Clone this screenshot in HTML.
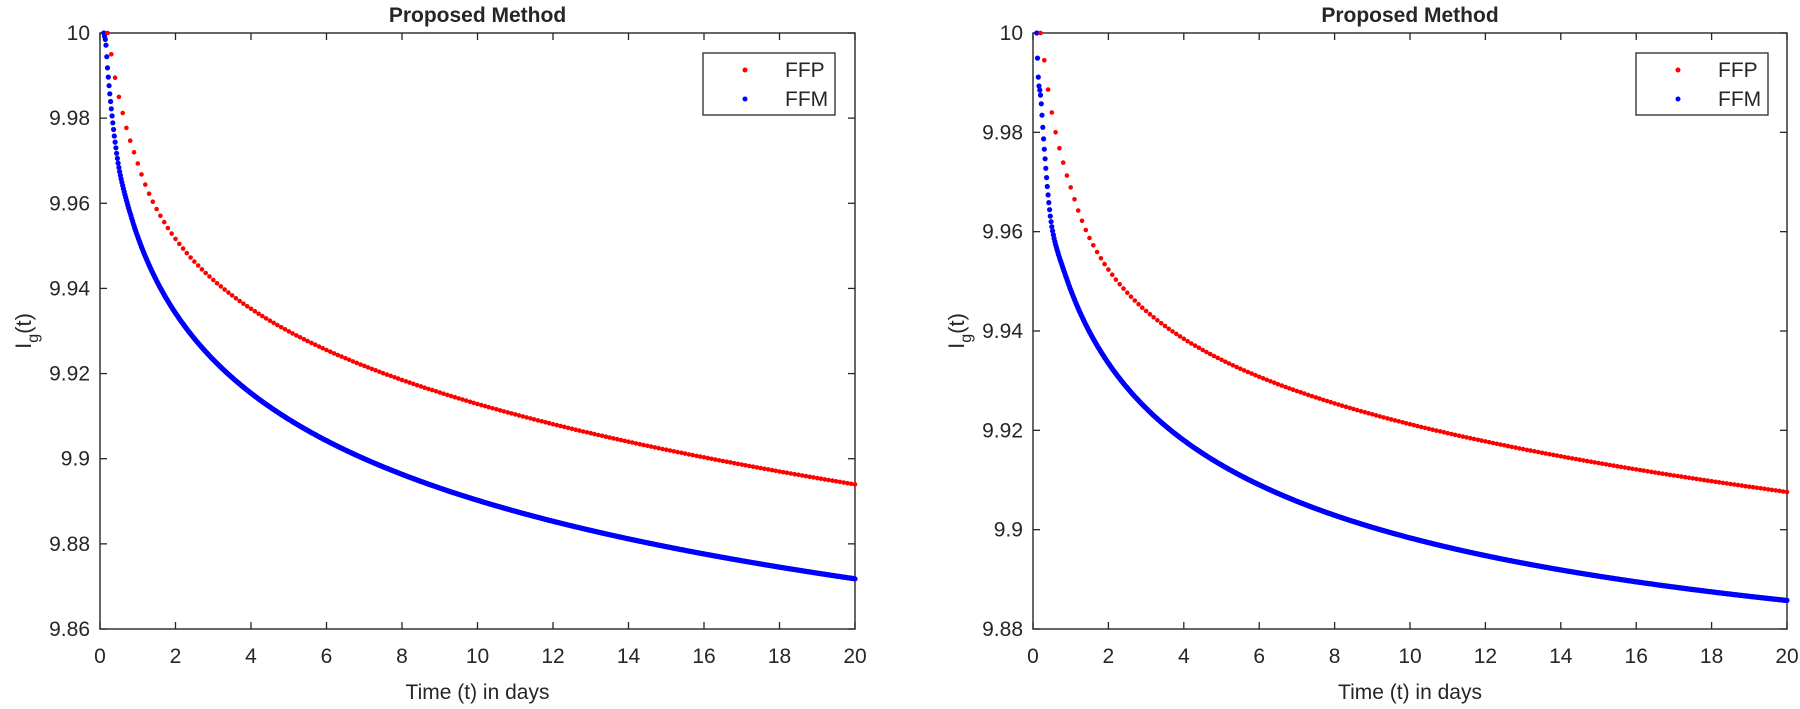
<!DOCTYPE html>
<html><head><meta charset="utf-8"><style>
html,body{margin:0;padding:0;background:#fff;}
svg{display:block;}
text{font-family:"Liberation Sans",Arial,sans-serif;fill:#262626;}
</style></head><body>
<svg id="s" width="1800" height="709" xmlns="http://www.w3.org/2000/svg"></svg>
<script>
const S=document.getElementById('s');
let out='';
function makeSpline(pts){
  const xs=pts.map(p=>Math.log(p[0])), ys=pts.map(p=>p[1]), n=xs.length;
  const d=[],m=new Array(n);
  for(let i=0;i<n-1;i++)d.push((ys[i+1]-ys[i])/(xs[i+1]-xs[i]));
  m[0]=d[0];m[n-1]=d[n-2];
  for(let i=1;i<n-1;i++){ if(d[i-1]*d[i]<=0)m[i]=0; else { const w1=2*(xs[i+1]-xs[i])+(xs[i]-xs[i-1]), w2=(xs[i+1]-xs[i])+2*(xs[i]-xs[i-1]); m[i]=(w1+w2)/(w1/d[i-1]+w2/d[i]); } }
  return function(t){
    const x=Math.log(t);
    if(x<=xs[0])return ys[0];
    if(x>=xs[n-1])return ys[n-1];
    let i=0;while(x>xs[i+1])i++;
    const h=xs[i+1]-xs[i], s=(x-xs[i])/h;
    const h00=2*s*s*s-3*s*s+1,h10=s*s*s-2*s*s+s,h01=-2*s*s*s+3*s*s,h11=s*s*s-s*s;
    return h00*ys[i]+h10*h*m[i]+h01*ys[i+1]+h11*h*m[i+1];
  };
}
function polyfit(pts,deg){
  const N=deg+1,A=[],b=[];
  for(let i=0;i<N;i++){A.push(new Array(N).fill(0));b.push(0);}
  pts.forEach(([t,y])=>{const u=Math.log(t);const p=[];for(let k=0;k<N;k++)p.push(Math.pow(u,k));
    for(let i=0;i<N;i++){b[i]+=p[i]*y;for(let j=0;j<N;j++)A[i][j]+=p[i]*p[j];}});
  for(let i=0;i<N;i++){let mx=i;for(let r=i+1;r<N;r++)if(Math.abs(A[r][i])>Math.abs(A[mx][i]))mx=r;
    [A[i],A[mx]]=[A[mx],A[i]];[b[i],b[mx]]=[b[mx],b[i]];
    for(let r=0;r<N;r++){if(r===i)continue;const f=A[r][i]/A[i][i];for(let c=i;c<N;c++)A[r][c]-=f*A[i][c];b[r]-=f*b[i];}}
  const c=b.map((v,i)=>v/A[i][i]);
  return t=>{const u=Math.log(t);let s=0;for(let k=0;k<N;k++)s+=c[k]*Math.pow(u,k);return s;};
}
function makeFn(pts,tj){
  const sp=makeSpline(pts), pf=polyfit(pts.filter(p=>p[0]>=tj),3);
  return t=>{ if(t<=tj)return sp(t); if(t>=tj*1.8)return pf(t); const w=(t-tj)/(tj*0.8); return sp(t)*(1-w)+pf(t)*w; };
}
function plot(cfg){
  const {x0,x1,y0,y1,ymin,ymax,yticks,ylabels,red,blue,lx}=cfg;
  const X=t=>x0+(x1-x0)*t/20, Y=v=>y1-(y1-y0)*(v-ymin)/(ymax-ymin);
  const fr=makeFn(red,0.8), fb=makeFn(blue,0.5);
  out+=`<rect x="${x0}" y="${y0}" width="${x1-x0}" height="${y1-y0}" fill="none" stroke="#262626" stroke-width="1.4"/>`;
  for(let t=0;t<=20;t+=2){const x=X(t);
    out+=`<line x1="${x}" y1="${y1}" x2="${x}" y2="${y1-7}" stroke="#262626" stroke-width="1.3"/>`;
    out+=`<line x1="${x}" y1="${y0}" x2="${x}" y2="${y0+7}" stroke="#262626" stroke-width="1.3"/>`;
    out+=`<text x="${x}" y="${y1+34}" font-size="21" text-anchor="middle">${t}</text>`;}
  yticks.forEach((v,i)=>{const y=Y(v);
    out+=`<line x1="${x0}" y1="${y}" x2="${x0+7}" y2="${y}" stroke="#262626" stroke-width="1.3"/>`;
    out+=`<line x1="${x1}" y1="${y}" x2="${x1-7}" y2="${y}" stroke="#262626" stroke-width="1.3"/>`;
    out+=`<text x="${x0-10}" y="${y+7}" font-size="21" text-anchor="end">${ylabels[i]}</text>`;});
  out+=`<text x="${(x0+x1)/2}" y="${y1+70}" font-size="21" text-anchor="middle">Time (t) in days</text>`;
  out+=`<text x="${(x0+x1)/2}" y="22" font-size="21" font-weight="bold" text-anchor="middle" fill="#000">Proposed Method</text>`;
  const lx0=x0-77,ly=(y0+y1)/2;
  out+=`<text transform="translate(${lx0+8},${ly}) rotate(-90)" font-size="22" text-anchor="middle">I<tspan font-size="16" dy="7">g</tspan><tspan dy="-7">(t)</tspan></text>`;
  for(let t=blue[0][0];t<=20.0001;t+=0.02){
    out+=`<circle cx="${X(t).toFixed(1)}" cy="${Y(fb(t)).toFixed(1)}" r="2.6" fill="#0000ff"/>`;}
  for(let k=2;k<=200;k++){const t=k*0.1;
    out+=`<circle cx="${X(t).toFixed(1)}" cy="${Y(fr(t)).toFixed(1)}" r="2.3" fill="#ff0000"/>`;}
  out+=`<rect x="${lx}" y="53" width="132" height="62" fill="#fff" stroke="#262626" stroke-width="1.3"/>`;
  out+=`<circle cx="${lx+42}" cy="70" r="2.5" fill="#ff0000"/><circle cx="${lx+42}" cy="99" r="2.5" fill="#0000ff"/>`;
  out+=`<text x="${lx+82}" y="77" font-size="21">FFP</text><text x="${lx+82}" y="106" font-size="21">FFM</text>`;
}
plot({x0:100,x1:855,y0:33,y1:629,ymin:9.86,ymax:10,
 yticks:[9.86,9.88,9.9,9.92,9.94,9.96,9.98,10],ylabels:['9.86','9.88','9.9','9.92','9.94','9.96','9.98','10'],lx:703,
 red:[[0.2,10],[0.3,9.995],[0.4,9.9895],[0.5,9.985],[0.6,9.9812],[0.7,9.9777],[0.8,9.9747],[0.9,9.972],[1,9.9695],[2,9.9504],[3,9.9419],[4,9.9365],[6,9.9259],[8,9.9182],[10,9.9126],[12,9.9078],[14,9.9036],[16,9.9004],[18,9.8972],[20,9.8942]],
 blue:[[0.1,10],[0.15,9.998],[0.2,9.9918],[0.3,9.9822],[0.5,9.9684],[1,9.9525],[2,9.9344],[3,9.9227],[4,9.9153],[6,9.9041],[8,9.8967],[10,9.8903],[12,9.8855],[14,9.8813],[16,9.8776],[18,9.8744],[20,9.8717]]});
plot({x0:1033,x1:1787,y0:33,y1:629,ymin:9.88,ymax:10,
 yticks:[9.88,9.9,9.92,9.94,9.96,9.98,10],ylabels:['9.88','9.9','9.92','9.94','9.96','9.98','10'],lx:1636,
 red:[[0.2,10],[0.3,9.9945],[0.4,9.9886],[0.5,9.984],[0.6,9.98],[0.7,9.9768],[0.8,9.9739],[0.9,9.9713],[1,9.9691],[2,9.952],[3,9.9438],[4,9.9385],[6,9.9312],[8,9.9256],[10,9.921],[12,9.9178],[14,9.9146],[16,9.9119],[18,9.9098],[20,9.9078]],
 blue:[[0.1,10],[0.15,9.99],[0.2,9.9875],[0.3,9.9766],[0.5,9.961],[1,9.9483],[2,9.9338],[3,9.9247],[4,9.9174],[6,9.9087],[8,9.9028],[10,9.8987],[12,9.895],[14,9.892],[16,9.8898],[18,9.8875],[20,9.8853]]});
S.innerHTML=out;
</script>
</body></html>
